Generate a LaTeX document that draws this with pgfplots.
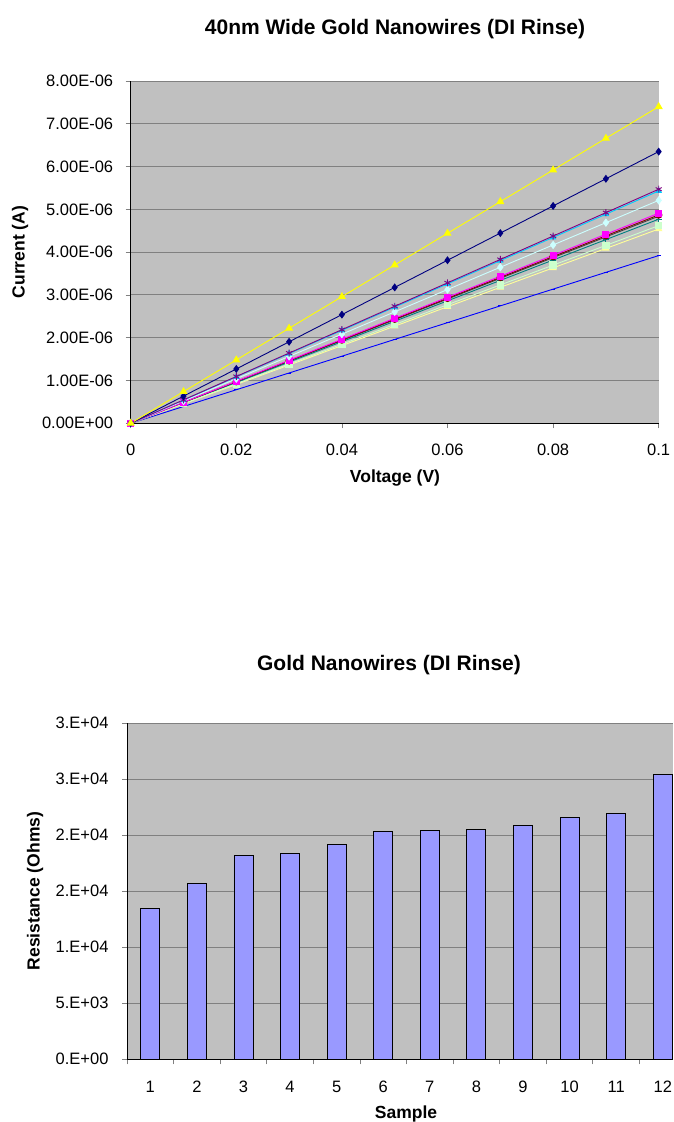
\documentclass[border=0pt]{standalone}
\usepackage{fontspec}
\setmainfont{Liberation Sans}
\usepackage{pgfplots}
\pgfplotsset{compat=1.18}
\usepackage{pgfplotstable}

\definecolor{plotgray}{HTML}{C0C0C0}
\definecolor{gridgray}{HTML}{808080}
\definecolor{barblue}{HTML}{9999FF}
\definecolor{cYellow}{HTML}{FFFF00}
\definecolor{cNavy}{HTML}{000080}
\definecolor{cPurple}{HTML}{800080}
\definecolor{cSky}{HTML}{00CCFF}
\definecolor{cLCyan}{HTML}{CCFFFF}
\definecolor{cMagenta}{HTML}{FF00FF}
\definecolor{cDarkRed}{HTML}{800000}
\definecolor{cDark}{HTML}{404040}
\definecolor{cTeal}{HTML}{008080}
\definecolor{cLGreen}{HTML}{CCFFCC}
\definecolor{cLYellow}{HTML}{FFFF99}
\definecolor{cBlue}{HTML}{0000FF}

\newcommand{\ticksize}{\fontsize{16.5}{18}\selectfont}
\newcommand{\labsize}{\fontsize{17.5}{20}\selectfont\bfseries}
\newcommand{\titsize}{\fontsize{21}{24}\selectfont\bfseries}

% Current in units of 1E-06 A
\pgfplotstableread{
x     s1    s2    s3    s4    s5    s6    s7    s8    s9    s10   s11   s12
0     0     0     0     0     0     0     0     0     0     0     0     0
0.01  0.740 0.635 0.547 0.543 0.521 0.491 0.487 0.484 0.477 0.462 0.454 0.392
0.02  1.480 1.270 1.094 1.086 1.042 0.982 0.974 0.968 0.954 0.924 0.908 0.784
0.03  2.220 1.905 1.641 1.629 1.563 1.473 1.461 1.452 1.431 1.386 1.362 1.176
0.04  2.960 2.540 2.188 2.172 2.084 1.964 1.948 1.936 1.908 1.848 1.816 1.568
0.05  3.700 3.175 2.735 2.715 2.605 2.455 2.435 2.420 2.385 2.310 2.270 1.960
0.06  4.440 3.810 3.282 3.258 3.126 2.946 2.922 2.904 2.862 2.772 2.724 2.352
0.07  5.180 4.445 3.829 3.801 3.647 3.437 3.409 3.388 3.339 3.234 3.178 2.744
0.08  5.920 5.080 4.376 4.344 4.168 3.928 3.896 3.872 3.816 3.696 3.632 3.136
0.09  6.660 5.715 4.923 4.887 4.689 4.419 4.383 4.356 4.293 4.158 4.086 3.528
0.10  7.400 6.350 5.470 5.430 5.210 4.910 4.870 4.840 4.770 4.620 4.540 3.920
}\ivdata

\pgfplotstableread{
n  r
1  13480
2  15720
3  18210
4  18360
5  19160
6  20320
7  20450
8  20500
9  20860
10 21610
11 21960
12 25450
}\resdata

\begin{document}
\begin{tikzpicture}[x=1pt,y=1pt]
\useasboundingbox (0,0) rectangle (673,1122);

\begin{axis}[
  at={(130.7pt,698.7pt)}, anchor=south west,
  scale only axis, width=528pt, height=342.3pt,
  xmin=0, xmax=0.1, ymin=0, ymax=8,
  axis background/.style={fill=plotgray},
  axis x line*=bottom, axis y line*=left,
  axis line style={-, black, line width=0.9pt},
  ymajorgrids, grid style={gridgray, line width=0.9pt},
  xtick={0,0.02,0.04,0.06,0.08,0.1},
  xticklabels={0,0.02,0.04,0.06,0.08,0.1},
  ytick={0,1,2,3,4,5,6,7,8},
  yticklabels={0.00E+00,1.00E-06,2.00E-06,3.00E-06,4.00E-06,5.00E-06,6.00E-06,7.00E-06,8.00E-06},
  tick align=outside, major tick length=5pt,
  tick style={gridgray, line width=0.8pt},
  /pgf/number format/assume math mode=true,
  xticklabel style={font=\ticksize, yshift=-12pt},
  yticklabel style={font=\ticksize, xshift=-9pt},
  clip=false,
  every axis plot/.append style={line width=0.9pt},
]
\addplot[cBlue, mark=-, mark size=2pt] table[x=x,y=s12] {\ivdata};
\addplot[cDark, mark=none] table[x=x,y=s8] {\ivdata};
\addplot[cTeal, mark=+, mark size=3pt] table[x=x,y=s9] {\ivdata};
\addplot[cLYellow, mark=triangle*, mark size=3.5pt, mark options={fill=cLYellow}] table[x=x,y=s11] {\ivdata};
\addplot[cLGreen, mark=square*, mark size=3.2pt, mark options={fill=cLGreen}] table[x=x,y=s10] {\ivdata};
\addplot[cDarkRed, mark=*, mark size=3.3pt, mark options={fill=cDarkRed}] table[x=x,y=s7] {\ivdata};
\addplot[cMagenta, mark=square*, mark size=3pt, mark options={fill=cMagenta}] table[x=x,y=s6] {\ivdata};
\addplot[cLCyan, mark=diamond*, mark size=3.5pt, mark options={fill=cLCyan}] table[x=x,y=s5] {\ivdata};
\addplot[cSky, mark=triangle*, mark size=3pt, mark options={fill=cSky}] table[x=x,y=s4] {\ivdata};
\addplot[cPurple, mark=asterisk, mark size=3.5pt] table[x=x,y=s3] {\ivdata};
\addplot[cNavy, mark=diamond*, mark size=3.3pt, mark options={fill=cNavy}] table[x=x,y=s2] {\ivdata};
\addplot[cYellow, mark=triangle*, mark size=3.8pt, mark options={fill=cYellow}] table[x=x,y=s1] {\ivdata};
\end{axis}

\begin{axis}[
  at={(127pt,62.7pt)}, anchor=south west,
  scale only axis, width=546pt, height=336pt,
  xmin=0.5, xmax=12.22, ymin=0, ymax=30000,
  axis background/.style={fill=plotgray},
  axis x line*=bottom, axis y line*=left,
  axis line style={-, black, line width=0.9pt},
  ymajorgrids, grid style={gridgray, line width=0.9pt},
  xtick={1,2,3,4,5,6,7,8,9,10,11,12},
  xticklabels={1,2,3,4,5,6,7,8,9,10,11,12},
  minor xtick={0.5,1.5,2.5,3.5,4.5,5.5,6.5,7.5,8.5,9.5,10.5,11.5},
  major x tick style={draw=none},
  ytick={0,5000,10000,15000,20000,25000,30000},
  yticklabels={0.E+00,5.E+03,1.E+04,2.E+04,2.E+04,3.E+04,3.E+04},
  scaled y ticks=false,
  tick align=outside, major tick length=5pt, minor tick length=5pt,
  tick style={gridgray, line width=0.8pt},
  /pgf/number format/assume math mode=true,
  xticklabel style={font=\ticksize, yshift=-13pt},
  yticklabel style={font=\ticksize, xshift=-10pt},
  ybar, bar width=19pt,
  clip=false,
]
\addplot[fill=barblue, draw=black, line width=0.9pt] table[x=n,y=r] {\resdata};
\end{axis}

\node[font=\titsize] at (395,1093) {40nm Wide Gold Nanowires (DI Rinse)};
\node[font=\labsize] at (395,644) {Voltage (V)};
\node[font=\labsize, rotate=90] at (20,870) {Current (A)};
\node[font=\titsize] at (389,457) {Gold Nanowires (DI Rinse)};
\node[font=\labsize] at (406,8) {Sample};
\node[font=\labsize, rotate=90] at (35,231) {Resistance (Ohms)};
\end{tikzpicture}
\end{document}
